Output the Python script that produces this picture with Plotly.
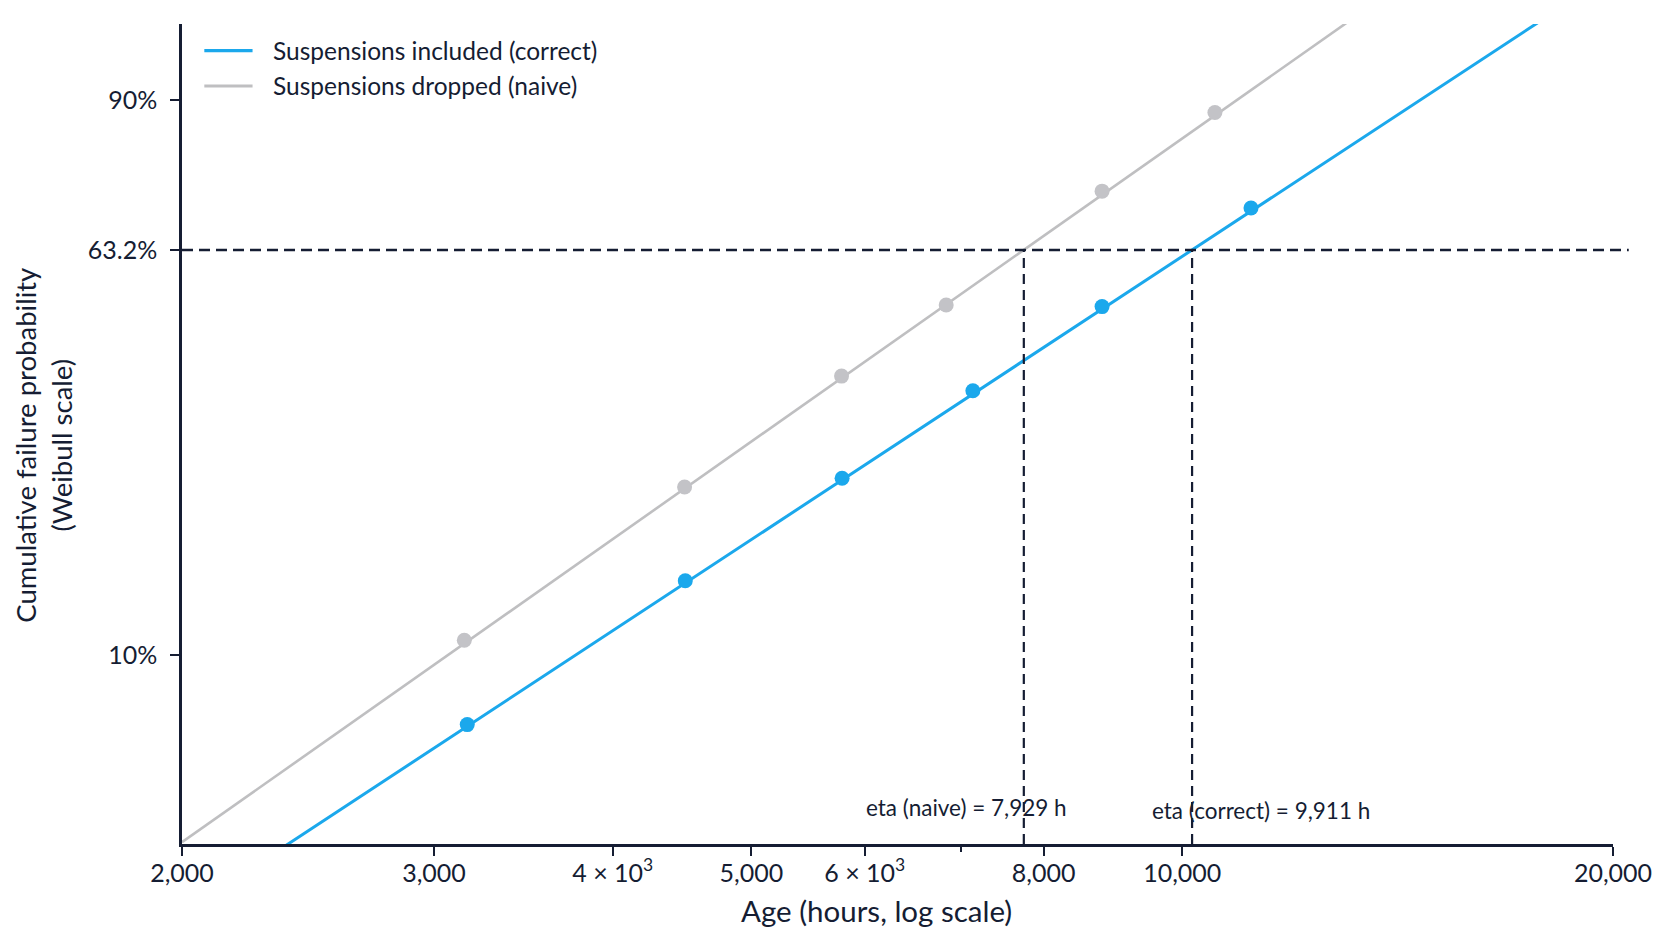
import numpy as np
import plotly.graph_objects as go

# ---------------- data ----------------
naive_hours = [3150, 4490, 5780, 6840, 8790, 10540]
naive_prob = [0.108, 0.235, 0.391, 0.521, 0.750, 0.883]

correct_hours = [3165, 4495, 5785, 7140, 8790, 11170]
correct_prob = [0.069, 0.147, 0.245, 0.367, 0.518, 0.717]

eta_naive = 7750
beta_naive = 2.43
eta_correct = 10160
beta_correct = 2.27

series_names = ["Suspensions included (correct)", "Suspensions dropped (naive)"]
eta_labels = ["eta (naive) = 7,929 h", "eta (correct) = 9,911 h"]
x_title = "Age (hours, log scale)"
y_title = "Cumulative failure probability<br>(Weibull scale)"

x_tickvals = [2000, 3000, 4000, 5000, 6000, 8000, 10000, 20000]
x_ticktext = ["2,000", "3,000", "4 × 10<sup>3</sup>", "5,000", "6 × 10<sup>3</sup>",
              "8,000", "10,000", "20,000"]
x_minor_tickvals = [7000]
y_tick_probs = [0.10, 0.632, 0.90]
y_ticktext = ["10%", "63.2%", "90%"]

x_min, x_max = 2000, 20000
y_range = [-3.3017, 1.2556]   # Weibull-transformed axis limits
char_prob = 0.632

# ---------------- styles ----------------
BLUE = "#1ba8ec"
GRAY = "#bfbfc1"
GRAY_MK = "#c3c3c7"
NAVY = "#151d33"
FONT = "Lato"


def weib(p):
    p = np.asarray(p, dtype=float)
    return np.log(-np.log(1.0 - p))


def fit_line(eta, beta):
    t = np.geomspace(x_min, x_max, 200)
    return t, beta * np.log(t / eta)


fig = go.Figure()

# fitted lines
t_c, w_c = fit_line(eta_correct, beta_correct)
t_n, w_n = fit_line(eta_naive, beta_naive)
fig.add_trace(go.Scatter(x=t_n, y=w_n, mode="lines", name=series_names[1], showlegend=False,
                         line=dict(color=GRAY, width=2.6)))
fig.add_trace(go.Scatter(x=t_c, y=w_c, mode="lines", name=series_names[0], showlegend=False,
                         line=dict(color=BLUE, width=3)))

# data points
fig.add_trace(go.Scatter(x=naive_hours, y=weib(naive_prob), mode="markers", showlegend=False,
                         name=series_names[1],
                         marker=dict(color=GRAY_MK, size=15, line=dict(width=0))))
fig.add_trace(go.Scatter(x=correct_hours, y=weib(correct_prob), mode="markers", showlegend=False,
                         name=series_names[0],
                         marker=dict(color=BLUE, size=15, line=dict(width=0))))

# vertical eta drop lines
for eta in (eta_naive, eta_correct):
    fig.add_trace(go.Scatter(x=[eta, eta], y=[y_range[0], float(weib(char_prob))], mode="lines",
                             showlegend=False, hoverinfo="skip",
                             line=dict(color=NAVY, width=2.2, dash="10px,6px")))

# horizontal 63.2% line
fig.add_shape(type="line", xref="paper", yref="y", x0=0, x1=1.011,
              y0=float(weib(char_prob)), y1=float(weib(char_prob)),
              line=dict(color=NAVY, width=2.4, dash="11px,6px"), layer="above")

# eta annotations
fig.add_annotation(x=np.log10(eta_naive), xref="x", y=0.0443, yref="paper", text=eta_labels[0],
                   showarrow=False, xanchor="center", yanchor="middle", xshift=-57,
                   font=dict(family=FONT, size=22.5, color=NAVY))
fig.add_annotation(x=np.log10(eta_correct), xref="x", y=0.0410, yref="paper", text=eta_labels[1],
                   showarrow=False, xanchor="center", yanchor="middle", xshift=69,
                   font=dict(family=FONT, size=22.5, color=NAVY))

# legend (drawn in paper coordinates)
legend_colors = [BLUE, GRAY]
legend_y = [0.9675, 0.9244]
for name, col, ly in zip(series_names, legend_colors, legend_y):
    fig.add_shape(type="line", xref="paper", yref="paper", x0=0.0156, x1=0.0493, y0=ly, y1=ly,
                  line=dict(color=col, width=3.2))
    fig.add_annotation(x=0.0622, y=ly, xref="paper", yref="paper", text=name, showarrow=False,
                       xanchor="left", yanchor="middle",
                       font=dict(family=FONT, size=24.5, color=NAVY))

# axis titles
fig.add_annotation(x=0.4852, y=-0.0813, xref="paper", yref="paper", text=x_title, showarrow=False,
                   xanchor="center", yanchor="middle", font=dict(family=FONT, size=29.5, color=NAVY))
fig.add_annotation(x=-0.0965, y=0.4868, xref="paper", yref="paper", text=y_title, showarrow=False,
                   xanchor="center", yanchor="middle", textangle=-90,
                   font=dict(family=FONT, size=27.5, color=NAVY))

fig.update_layout(
    width=1656, height=925,
    margin=dict(l=174, r=42, t=16, b=89),
    paper_bgcolor="white", plot_bgcolor="white",
    font=dict(family=FONT, color=NAVY, size=25),
    showlegend=False,
)

fig.update_xaxes(
    type="log", range=[np.log10(x_min), np.log10(x_max)],
    tickmode="array", tickvals=x_tickvals, ticktext=x_ticktext,
    minor=dict(tickmode="array", tickvals=x_minor_tickvals, ticks="outside", ticklen=5,
               tickwidth=2, tickcolor=NAVY, showgrid=False),
    showline=True, linecolor=NAVY, linewidth=2.5, mirror=False,
    ticks="outside", ticklen=9, tickwidth=2, tickcolor=NAVY,
    showgrid=False, zeroline=False,
    tickfont=dict(family=FONT, size=25, color=NAVY), ticklabelstandoff=-4,
)
fig.update_yaxes(
    range=y_range,
    tickmode="array", tickvals=weib(y_tick_probs).tolist(), ticktext=y_ticktext,
    showline=True, linecolor=NAVY, linewidth=2.5, mirror=False,
    ticks="outside", ticklen=9, tickwidth=2, tickcolor=NAVY,
    showgrid=False, zeroline=False,
    tickfont=dict(family=FONT, size=25, color=NAVY), ticklabelstandoff=8,
)

fig.write_html("out.html")
